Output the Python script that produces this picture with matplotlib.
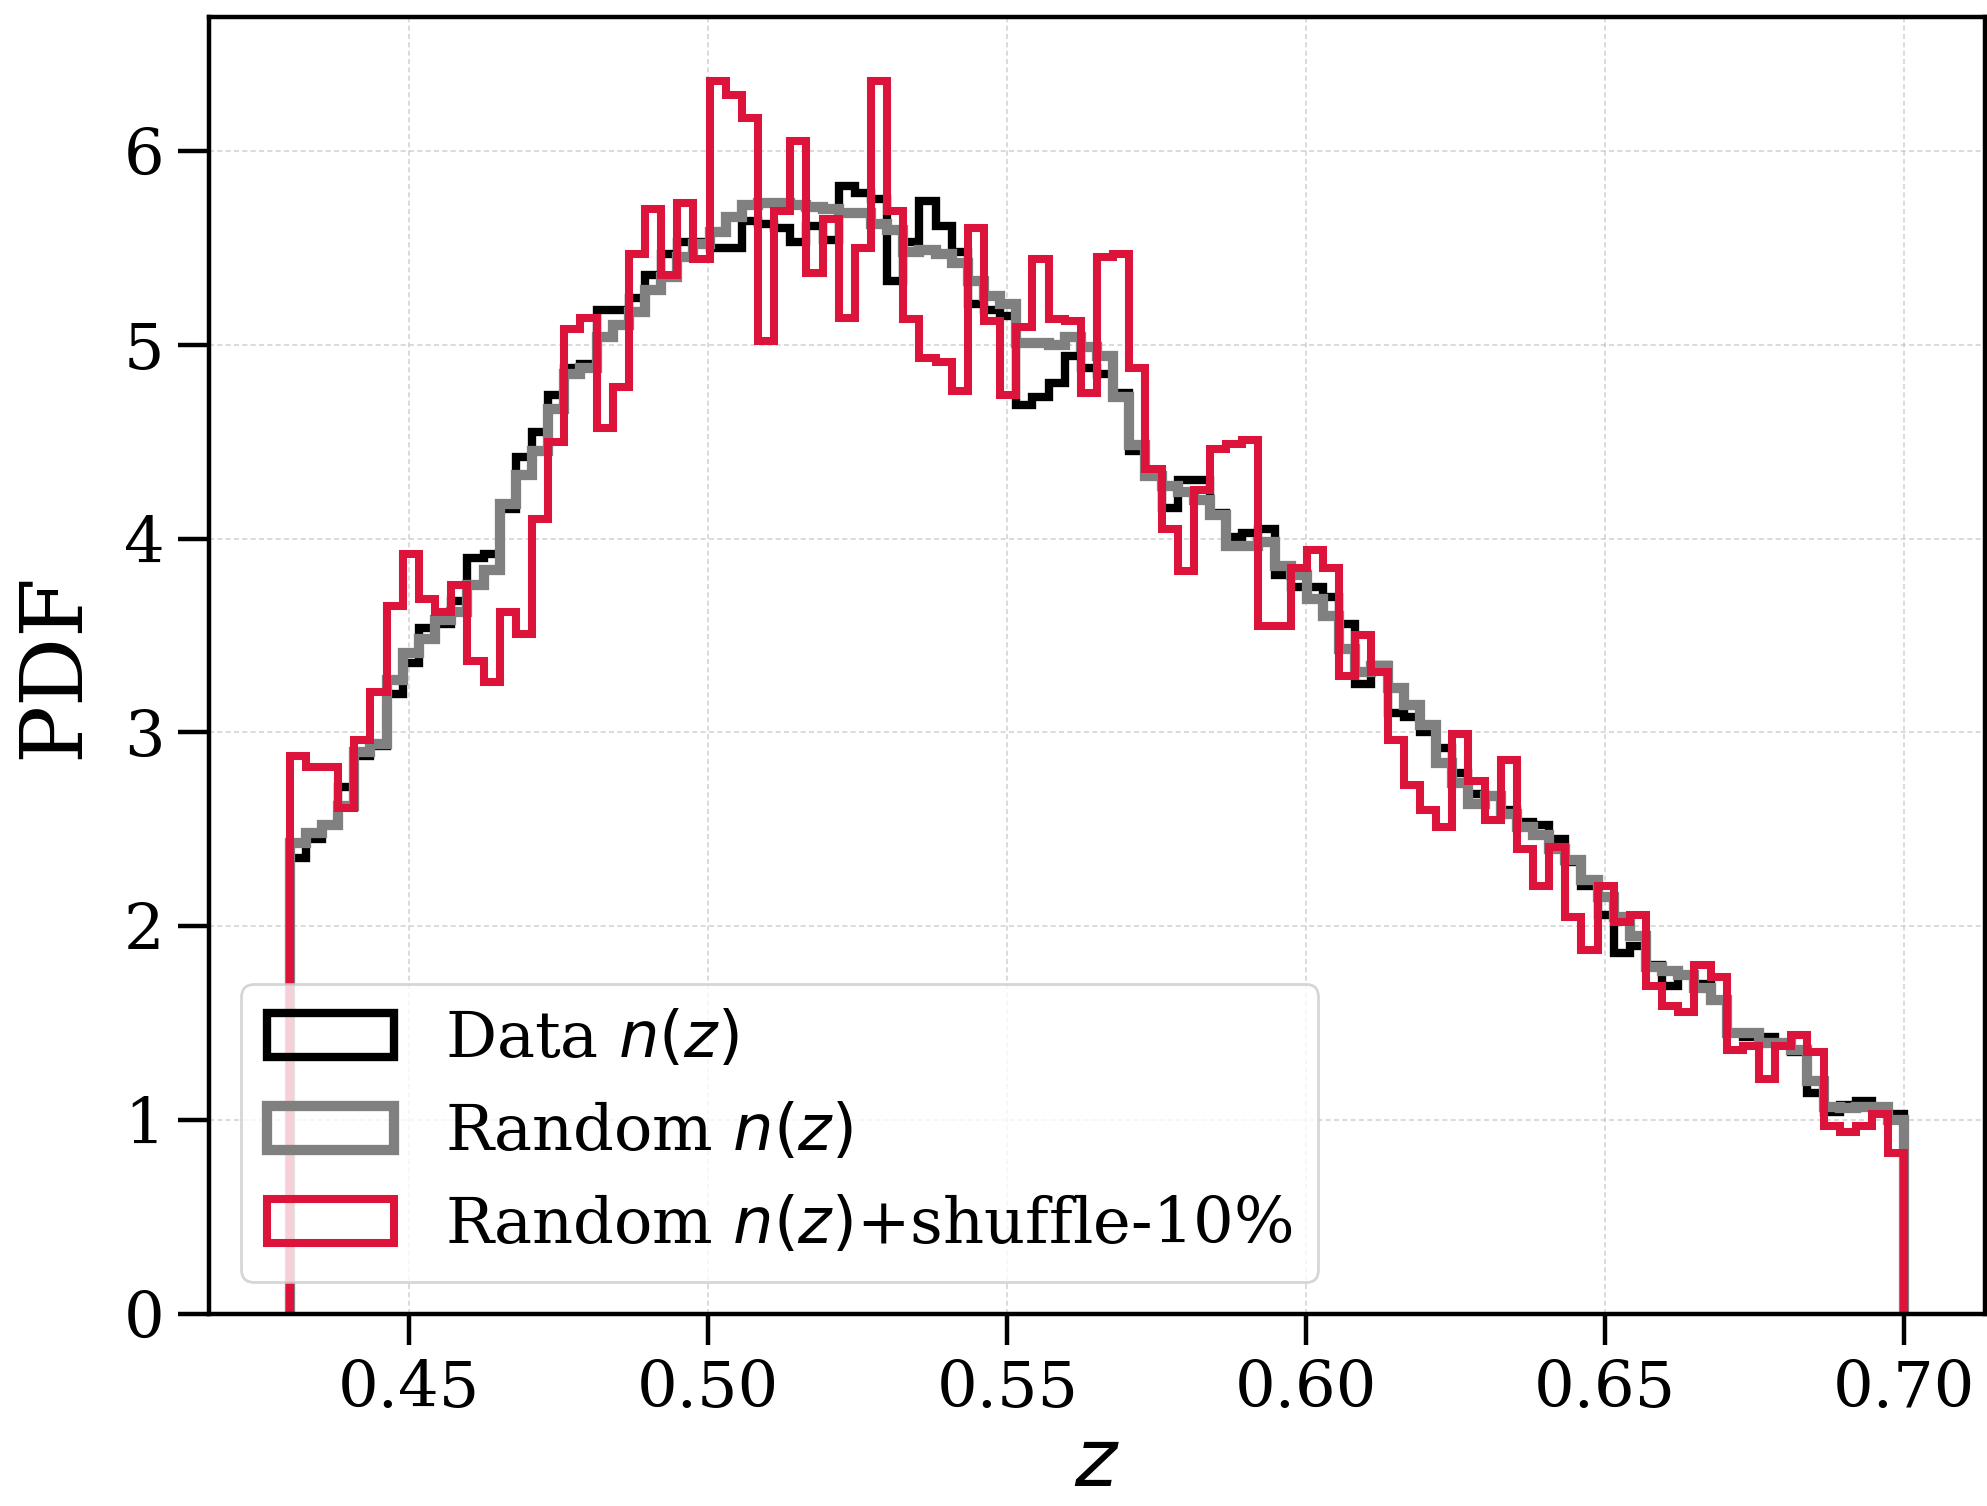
import numpy as np
import matplotlib
matplotlib.use("Agg")
import matplotlib.pyplot as plt

# ---- data -------------------------------------------------------------
z_min, z_max, n_bins = 0.43, 0.70, 100

data_nz = [
    2.35, 2.45, 2.52, 2.72, 2.88, 2.93, 3.20, 3.36, 3.54, 3.56,
    3.68, 3.90, 3.92, 4.15, 4.42, 4.55, 4.74, 4.88, 4.90, 5.18,
    5.18, 5.24, 5.36, 5.47, 5.53, 5.53, 5.50, 5.50, 5.64, 5.62,
    5.60, 5.53, 5.61, 5.54, 5.82, 5.78, 5.75, 5.33, 5.53, 5.74,
    5.61, 5.48, 5.21, 5.18, 5.15, 4.69, 4.73, 4.80, 4.94, 4.88,
    4.85, 4.75, 4.45, 4.32, 4.16, 4.30, 4.30, 4.13, 4.01, 4.03,
    4.05, 3.81, 3.75, 3.75, 3.70, 3.56, 3.25, 3.35, 3.10, 3.08,
    3.00, 2.92, 2.79, 2.68, 2.67, 2.60, 2.54, 2.52, 2.45, 2.33,
    2.21, 2.06, 1.86, 1.90, 1.80, 1.69, 1.75, 1.70, 1.62, 1.45,
    1.43, 1.43, 1.40, 1.35, 1.14, 1.04, 1.08, 1.10, 1.07, 1.03,
]

random_nz = [
    2.43, 2.48, 2.52, 2.62, 2.90, 2.94, 3.27, 3.41, 3.48, 3.58,
    3.62, 3.76, 3.84, 4.18, 4.33, 4.45, 4.67, 4.85, 4.88, 5.04,
    5.10, 5.17, 5.28, 5.35, 5.45, 5.52, 5.58, 5.66, 5.72, 5.73,
    5.73, 5.72, 5.71, 5.70, 5.68, 5.68, 5.62, 5.59, 5.48, 5.49,
    5.47, 5.42, 5.33, 5.25, 5.21, 5.01, 5.01, 5.00, 5.04, 4.99,
    4.94, 4.73, 4.48, 4.32, 4.27, 4.24, 4.20, 4.12, 3.96, 3.96,
    3.98, 3.86, 3.81, 3.69, 3.60, 3.43, 3.31, 3.34, 3.23, 3.14,
    3.04, 2.84, 2.74, 2.63, 2.67, 2.58, 2.51, 2.47, 2.40, 2.34,
    2.24, 2.15, 2.05, 1.95, 1.79, 1.77, 1.75, 1.68, 1.62, 1.45,
    1.45, 1.40, 1.40, 1.36, 1.20, 1.07, 1.06, 1.07, 1.07, 1.00,
]

shuffle_nz = [
    2.88, 2.82, 2.82, 2.61, 2.96, 3.21, 3.65, 3.92, 3.69, 3.62,
    3.76, 3.37, 3.26, 3.62, 3.51, 4.10, 4.50, 5.08, 5.14, 4.57,
    4.78, 5.47, 5.70, 5.36, 5.73, 5.44, 6.36, 6.29, 6.17, 5.02,
    5.69, 6.05, 5.37, 5.65, 5.14, 5.50, 6.36, 5.69, 5.13, 4.93,
    4.91, 4.76, 5.60, 5.12, 4.74, 5.09, 5.44, 5.13, 5.12, 4.75,
    5.45, 5.47, 4.88, 4.36, 4.05, 3.83, 4.25, 4.46, 4.49, 4.51,
    3.55, 3.55, 3.85, 3.94, 3.85, 3.29, 3.50, 3.31, 2.96, 2.73,
    2.60, 2.51, 2.99, 2.75, 2.55, 2.86, 2.40, 2.21, 2.41, 2.05,
    1.88, 2.21, 2.02, 2.06, 1.69, 1.59, 1.56, 1.80, 1.74, 1.36,
    1.38, 1.21, 1.38, 1.44, 1.35, 0.97, 0.94, 0.97, 1.03, 0.83,
]

labels = [r"Data $n(z)$", r"Random $n(z)$", r"Random $n(z)$+shuffle-10%"]
colors = ["black", "gray", "crimson"]
linewidths = [3.0, 3.7, 2.9]

xticks = [0.45, 0.50, 0.55, 0.60, 0.65, 0.70]
yticks = [0, 1, 2, 3, 4, 5, 6]

# ---- plot ---------------------------------------------------------------
plt.rcParams["font.family"] = ["DejaVu Serif"]
plt.rcParams["mathtext.fontset"] = "dejavusans"

edges = np.linspace(z_min, z_max, n_bins + 1)
centers = 0.5 * (edges[:-1] + edges[1:])

fig = plt.figure(figsize=(9.935, 7.53), dpi=200)
ax = fig.add_axes([0.1052, 0.1275, 0.999 - 0.1052, 0.9887 - 0.1275])

for vals, lab, col, lw in zip([data_nz, random_nz, shuffle_nz], labels, colors, linewidths):
    ax.hist(centers, bins=edges, weights=vals, histtype="step",
            color=col, lw=lw, label=lab)

ax.set_xlim(0.4165, 0.7135)
ax.set_ylim(0, 6.69)
ax.set_xticks(xticks)
ax.set_yticks(yticks)
ax.grid(True, ls=(0, (3, 2)), lw=0.6, color="0.72", alpha=0.6)
ax.set_axisbelow(True)

for sp in ax.spines.values():
    sp.set_linewidth(1.6)
ax.tick_params(direction="out", length=11, width=1.6, labelsize=23, pad=5)

ax.set_xlabel(r"$z$", fontsize=29, labelpad=2)
ax.set_ylabel("PDF", fontsize=31, labelpad=10)

leg = ax.legend(loc="lower left", fontsize=23)

fig.savefig("out.png", dpi=200)
